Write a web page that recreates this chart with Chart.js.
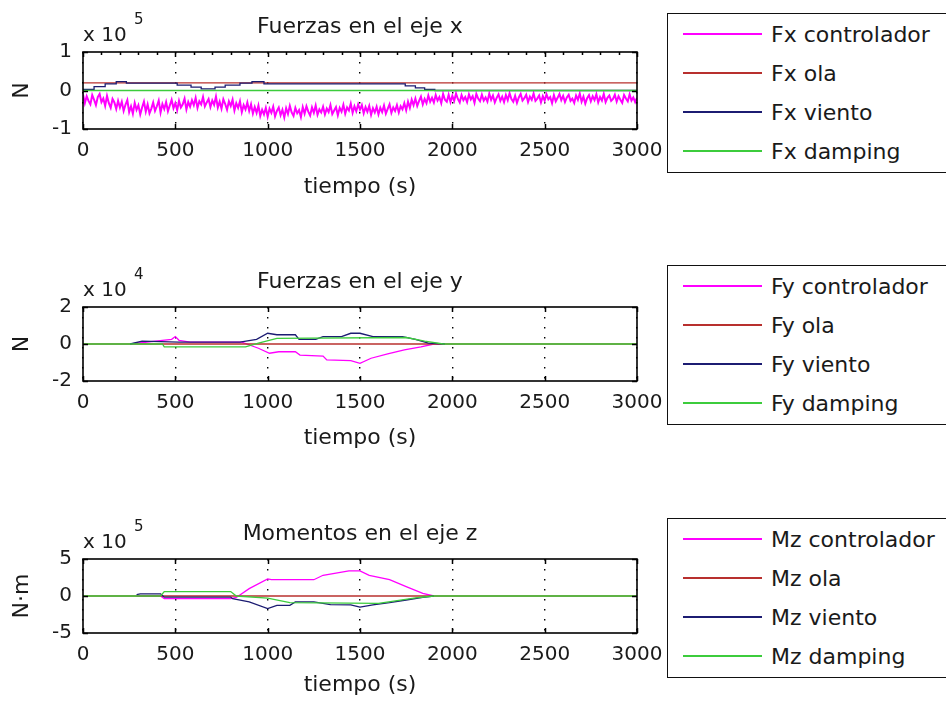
<!DOCTYPE html>
<html>
<head>
<meta charset="utf-8">
<script src="https://cdn.jsdelivr.net/npm/chart.js@4.4.1/dist/chart.umd.min.js"></script>
<style>
  html, body { margin: 0; padding: 0; background: #fff; width: 946px; height: 709px; overflow: hidden; }
  canvas { position: absolute; left: 0; }
  .leg { position: absolute; left: 667px; width: 300px; height: 160px; border: 1.5px solid #111;
         background: #fff; box-sizing: border-box; font: 22px "DejaVu Sans"; color: #1a1a1a; z-index: 2; }
  .item { position: absolute; left: 15px; height: 26px; display: flex; align-items: center; white-space: nowrap; }
  .item .ln { display: inline-block; width: 79px; height: 1.5px; margin-right: 9px; }
</style>
</head>
<body>
<canvas id="cx" width="700" height="215" style="top:0px"></canvas>
<canvas id="cy" width="700" height="212" style="top:255px"></canvas>
<canvas id="cz" width="700" height="212" style="top:507px"></canvas>
<div class="leg" id="lx" style="top:13px"></div>
<div class="leg" id="ly" style="top:265px"></div>
<div class="leg" id="lz" style="top:518px"></div>
<script>
// ---- series names and colours ----
const seriesNames = ['controlador', 'ola', 'viento', 'damping'];
const seriesColors = ['#ff00ff', '#b8302e', '#1c1c72', '#3ccc3c'];
const timeTicks = [0, 500, 1000, 1500, 2000, 2500, 3000];

// ---- Fuerzas en el eje x (values in units of 10^5 N) ----
const fxSampleStep = 10; // s between controller samples
const fxControlador = [
  -0.10,-0.33,-0.15,-0.27,-0.36,-0.12,-0.24,-0.38,-0.17,-0.09,
  -0.30,-0.21,-0.40,-0.14,-0.33,-0.45,-0.22,-0.31,-0.48,-0.27,
  -0.44,-0.29,-0.53,-0.37,-0.25,-0.56,-0.41,-0.60,-0.32,-0.50,
  -0.38,-0.62,-0.44,-0.29,-0.55,-0.36,-0.59,-0.47,-0.31,-0.53,
  -0.41,-0.26,-0.57,-0.35,-0.48,-0.30,-0.54,-0.39,-0.24,-0.46,
  -0.33,-0.51,-0.27,-0.44,-0.36,-0.21,-0.49,-0.30,-0.42,-0.25,
  -0.38,-0.19,-0.45,-0.28,-0.36,-0.17,-0.41,-0.31,-0.22,-0.43,
  -0.26,-0.37,-0.16,-0.44,-0.29,-0.47,-0.23,-0.35,-0.50,-0.28,
  -0.40,-0.24,-0.52,-0.33,-0.45,-0.28,-0.56,-0.38,-0.49,-0.31,
  -0.53,-0.36,-0.60,-0.43,-0.58,-0.39,-0.66,-0.50,-0.62,-0.45,
  -0.68,-0.47,-0.58,-0.42,-0.67,-0.53,-0.44,-0.64,-0.50,-0.70,
  -0.46,-0.61,-0.40,-0.57,-0.66,-0.45,-0.59,-0.51,-0.69,-0.43,
  -0.60,-0.41,-0.55,-0.65,-0.44,-0.58,-0.39,-0.63,-0.49,-0.57,
  -0.42,-0.62,-0.47,-0.56,-0.38,-0.61,-0.52,-0.43,-0.64,-0.45,
  -0.55,-0.37,-0.60,-0.44,-0.52,-0.34,-0.58,-0.41,-0.54,-0.36,
  -0.50,-0.38,-0.59,-0.43,-0.55,-0.40,-0.63,-0.46,-0.57,-0.42,
  -0.62,-0.45,-0.56,-0.39,-0.60,-0.48,-0.36,-0.58,-0.44,-0.53,
  -0.38,-0.57,-0.41,-0.49,-0.33,-0.51,-0.29,-0.45,-0.24,-0.38,
  -0.21,-0.40,-0.27,-0.16,-0.36,-0.22,-0.33,-0.13,-0.29,-0.19,
  -0.31,-0.12,-0.26,-0.17,-0.33,-0.09,-0.24,-0.29,-0.11,-0.30,
  -0.14,-0.27,-0.08,-0.22,-0.31,-0.12,-0.25,-0.17,-0.30,-0.10,
  -0.23,-0.15,-0.32,-0.09,-0.21,-0.28,-0.11,-0.26,-0.18,-0.29,
  -0.08,-0.24,-0.13,-0.31,-0.19,-0.10,-0.27,-0.16,-0.30,-0.12,
  -0.25,-0.07,-0.22,-0.29,-0.14,-0.32,-0.18,-0.09,-0.26,-0.20,
  -0.11,-0.30,-0.16,-0.24,-0.08,-0.27,-0.21,-0.13,-0.31,-0.15,
  -0.26,-0.10,-0.23,-0.17,-0.33,-0.12,-0.28,-0.19,-0.09,-0.25,
  -0.14,-0.30,-0.18,-0.11,-0.27,-0.21,-0.32,-0.13,-0.24,-0.08,
  -0.29,-0.16,-0.34,-0.20,-0.12,-0.28,-0.15,-0.25,-0.10,-0.31,
  -0.17,-0.26,-0.09,-0.30,-0.19,-0.13,-0.27,-0.22,-0.11,-0.29,
  -0.15,-0.24,-0.32,-0.12,-0.21,-0.28,-0.10,-0.26,-0.18,-0.30,
  -0.19
];
const fxOlaT = [0, 3000];
const fxOla = [0.2, 0.2];
const fxVientoT = [0, 60, 120, 180, 235, 510, 585, 640, 715, 770, 850, 915, 980, 1745, 1800, 1850, 1905, 1950, 3000];
const fxViento  = [0, 0.03, 0.10, 0.17, 0.23, 0.19, 0.14, 0.09, 0.04, 0.09, 0.14, 0.19, 0.23, 0.17, 0.12, 0.07, 0.03, 0, 0];
const fxDampingT = [0, 3000];
const fxDamping = [0, 0];

// ---- Fuerzas en el eje y (values in units of 10^4 N) ----
const fyControladorT = [255, 430, 480, 500, 520, 580, 860, 950, 1010, 1060, 1150, 1175, 1300, 1320, 1450, 1500, 1560, 1650, 1740, 1830, 1900, 1950];
const fyControlador  = [0, 0.2, 0.25, 0.4, 0.2, 0.1, 0.1, -0.23, -0.5, -0.42, -0.42, -0.6, -0.65, -0.86, -0.9, -1.05, -0.77, -0.54, -0.32, -0.15, 0, 0];
const fyOlaT = [0, 3000];
const fyOla = [0, 0];
const fyVientoT = [255, 320, 520, 850, 940, 1000, 1050, 1150, 1170, 1260, 1300, 1400, 1450, 1500, 1570, 1730, 1800, 1870, 1960];
const fyViento  = [0, 0.15, 0.1, 0.1, 0.25, 0.58, 0.5, 0.5, 0.25, 0.25, 0.4, 0.4, 0.58, 0.58, 0.4, 0.4, 0.25, 0.05, 0];
const fyDampingT = [0, 430, 440, 880, 950, 1050, 1750, 1850, 1950, 3000];
const fyDamping  = [0, 0, -0.15, -0.15, 0.05, 0.3, 0.35, 0.15, 0, 0];

// ---- Momentos en el eje z (values in units of 10^5 N·m) ----
const mzControladorT = [290, 420, 440, 800, 830, 900, 1000, 1020, 1250, 1300, 1370, 1440, 1500, 1550, 1660, 1750, 1840, 1900];
const mzControlador  = [0, 0, -0.36, -0.36, -0.2, 1.0, 2.3, 2.2, 2.2, 2.8, 3.1, 3.4, 3.4, 2.8, 2.2, 1.26, 0.36, 0];
const mzOlaT = [0, 3000];
const mzOla = [0, 0];
const mzVientoT = [290, 310, 420, 440, 800, 810, 900, 1000, 1050, 1120, 1150, 1250, 1340, 1450, 1500, 1570, 1660, 1750, 1840, 1900];
const mzViento  = [0.2, 0.3, 0.3, -0.15, -0.15, -0.36, -0.8, -1.7, -1.26, -1.26, -0.8, -0.8, -1.17, -1.2, -1.5, -1.2, -0.9, -0.54, -0.18, 0];
const mzDampingT = [0, 420, 440, 800, 830, 1000, 1120, 1600, 1820, 1900, 3000];
const mzDamping  = [0, 0, 0.6, 0.6, 0, -0.3, -0.9, -1.0, -0.2, 0, 0];

// ---- helpers ----
const FONT = 'DejaVu Sans';
const TEXT = '#1a1a1a';
const pairs = (t, v) => t.map((x, i) => ({ x, y: v[i] }));
const sampled = (v, dt) => v.map((y, i) => ({ x: i * dt, y }));

// Axes box, inward tick marks, title and exponent label drawn on top of the plot
const axesDecor = {
  id: 'axesDecor',
  afterDraw(chart, args, o) {
    const { ctx, chartArea: a, scales } = chart;
    ctx.save();
    ctx.strokeStyle = '#000';
    ctx.lineWidth = 1.5;
    ctx.beginPath();
    for (const t of scales.x.ticks) {
      const px = Math.round(scales.x.getPixelForValue(t.value)) + 0.5;
      ctx.moveTo(px, a.bottom); ctx.lineTo(px, a.bottom - 5);
      ctx.moveTo(px, a.top); ctx.lineTo(px, a.top + 5);
    }
    for (const t of scales.y.ticks) {
      const py = Math.round(scales.y.getPixelForValue(t.value)) + 0.5;
      ctx.moveTo(a.left, py); ctx.lineTo(a.left + 5, py);
      ctx.moveTo(a.right, py); ctx.lineTo(a.right - 5, py);
    }
    if (o.minorStep) {
      for (let v = scales.x.min; v <= scales.x.max; v += o.minorStep) {
        const px = Math.round(scales.x.getPixelForValue(v)) + 0.5;
        ctx.moveTo(px, a.top); ctx.lineTo(px, a.top + 3);
      }
    }
    ctx.stroke();
    ctx.lineWidth = 1.6;
    ctx.strokeRect(a.left, a.top, a.right - a.left, a.bottom - a.top);

    ctx.fillStyle = TEXT;
    ctx.textBaseline = 'alphabetic';
    ctx.textAlign = 'center';
    ctx.font = '22px "' + FONT + '"';
    ctx.fillText(o.title, (a.left + a.right) / 2, a.top - 19);
    ctx.textAlign = 'left';
    ctx.font = '20px "' + FONT + '"';
    ctx.fillText('x 10', a.left, a.top - 11);
    ctx.font = '15px "' + FONT + '"';
    ctx.fillText(o.exponent, a.left + 51, a.top - 28);
    ctx.restore();
  }
};

function makePanel(canvasId, p) {
  const datasets = p.series.map((pts, i) => ({
    label: p.prefix + ' ' + seriesNames[i],
    data: pts,
    borderColor: seriesColors[i],
    borderWidth: i === 0 ? p.ctrlWidth : 1.3,
    pointRadius: 0,
    fill: false,
    tension: 0,
    stepped: p.stepped[i] || false,
    order: 3 - i
  }));
  new Chart(document.getElementById(canvasId), {
    type: 'line',
    data: { datasets },
    plugins: [axesDecor],
    options: {
      responsive: false,
      animation: false,
      events: [],
      layout: { padding: { left: 0, top: 52, right: 63, bottom: 6 } },
      plugins: {
        legend: { display: false },
        tooltip: { enabled: false },
        axesDecor: { title: p.title, exponent: p.exponent, minorStep: p.minorStep }
      },
      scales: {
        x: {
          type: 'linear', min: 0, max: 3000,
          afterBuildTicks: s => { s.ticks = timeTicks.map(v => ({ value: v })); },
          afterFit: s => { s.height = 80; },
          ticks: { font: { family: FONT, size: 20 }, color: TEXT, padding: 10, maxRotation: 0, autoSkip: false,
                   callback: v => String(v) },
          grid: { display: true, drawTicks: false, color: '#000', lineWidth: 1.4 },
          border: { display: false, dash: [1.5, 8.5] },
          title: { display: true, text: 'tiempo (s)', color: TEXT, font: { family: FONT, size: 22 },
                   padding: { top: 0, bottom: p.xTitlePad } }
        },
        y: {
          min: -p.yMax, max: p.yMax,
          afterBuildTicks: s => { s.ticks = p.yTicks.map(v => ({ value: v })); },
          afterFit: s => { s.width = 83; },
          ticks: { font: { family: FONT, size: 20 }, color: TEXT, padding: 11, callback: v => String(v) },
          grid: { display: false, drawTicks: false },
          border: { display: false },
          title: { display: true, text: p.yLabel, color: TEXT, font: { family: FONT, size: 22 },
                   padding: { top: 9, bottom: 0 } }
        }
      }
    }
  });
}

function makeLegend(divId, prefix) {
  const box = document.getElementById(divId);
  seriesNames.forEach((name, i) => {
    const it = document.createElement('div');
    it.className = 'item';
    it.style.top = (7 + i * 39) + 'px';
    const ln = document.createElement('span');
    ln.className = 'ln';
    ln.style.background = seriesColors[i];
    const tx = document.createElement('span');
    tx.textContent = prefix + ' ' + name;
    it.appendChild(ln); it.appendChild(tx);
    box.appendChild(it);
  });
}

makePanel('cx', {
  prefix: 'Fx', title: 'Fuerzas en el eje x', exponent: '5', yLabel: 'N',
  yMax: 1, yTicks: [-1, 0, 1], minorStep: 100, xTitlePad: 9, ctrlWidth: 2,
  stepped: [false, false, 'after', false],
  series: [sampled(fxControlador, fxSampleStep), pairs(fxOlaT, fxOla), pairs(fxVientoT, fxViento), pairs(fxDampingT, fxDamping)]
});
makePanel('cy', {
  prefix: 'Fy', title: 'Fuerzas en el eje y', exponent: '4', yLabel: 'N',
  yMax: 2, yTicks: [-2, 0, 2], minorStep: 0, xTitlePad: 10, ctrlWidth: 1.3,
  stepped: [],
  series: [pairs(fyControladorT, fyControlador), pairs(fyOlaT, fyOla), pairs(fyVientoT, fyViento), pairs(fyDampingT, fyDamping)]
});
makePanel('cz', {
  prefix: 'Mz', title: 'Momentos en el eje z', exponent: '5', yLabel: 'N·m',
  yMax: 5, yTicks: [-5, 0, 5], minorStep: 0, xTitlePad: 15, ctrlWidth: 1.3,
  stepped: [],
  series: [pairs(mzControladorT, mzControlador), pairs(mzOlaT, mzOla), pairs(mzVientoT, mzViento), pairs(mzDampingT, mzDamping)]
});

makeLegend('lx', 'Fx');
makeLegend('ly', 'Fy');
makeLegend('lz', 'Mz');
</script>
</body>
</html>
